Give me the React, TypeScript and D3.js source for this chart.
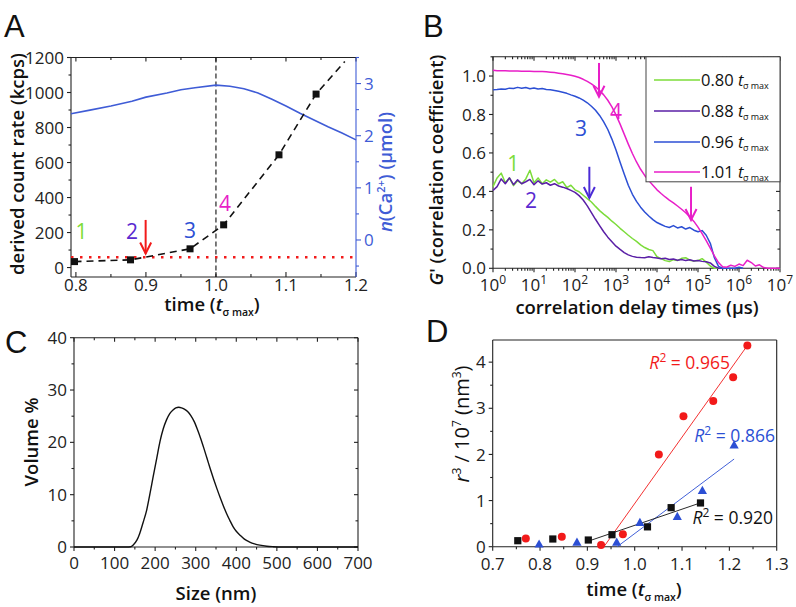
import React from 'react';
import * as d3 from 'd3';

const FONT = "'Open Sans', 'Noto Sans', 'DejaVu Sans', sans-serif";
const LETTER_FONT = "'Liberation Sans', Arial, sans-serif";

const C_GREEN = '#7cdc3a';
const C_PURPLE = '#5a1fa6';
const C_PURPLE_LBL = '#5a2ad0';
const C_BLUE = '#2c4fd4';
const C_MAGENTA = '#e81ec8';
const C_RED = '#f21a1a';
const C_ABLUE = '#3f5cd6';

// ---------------- Panel A data ----------------
const timeA = [0.798, 0.878, 0.963, 1.011, 1.09, 1.143];
const countRateA = [34, 44, 107, 244, 644, 991];
const trendEndTime = 1.184;
const trendEndRate = 1177;
const thresholdRate = 59;
const caTime = [0.793, 0.82, 0.85, 0.88, 0.9, 0.93, 0.95, 0.97, 1.0, 1.02, 1.04, 1.06, 1.08, 1.1, 1.12, 1.14, 1.16, 1.18, 1.2];
const caAmount = [2.42, 2.49, 2.57, 2.66, 2.74, 2.82, 2.88, 2.92, 2.97, 2.95, 2.9, 2.82, 2.7, 2.57, 2.43, 2.3, 2.17, 2.05, 1.92];
const timeTicksA = [0.8, 0.9, 1.0, 1.1, 1.2];
const timeMinorA = [0.85, 0.95, 1.05, 1.15];
const rateTicksA = [0, 200, 400, 600, 800, 1000, 1200];
const rateMinorA = [100, 300, 500, 700, 900, 1100];
const caTicksA = [0, 1, 2, 3];
const caMinorA = [-0.5, 0.5, 1.5, 2.5, 3.5];
const labelsA = ['1', '2', '3', '4'];
const labelTimeA = [0.808, 0.88, 0.963, 1.013];
const labelRateA = [205, 209, 214, 369];
const labelColorsA = [C_GREEN, C_PURPLE_LBL, C_BLUE, C_MAGENTA];
const arrowA = { time: 0.8996, from: 272, to: 80 };

// ---------------- Panel B data ----------------
const lagExp = Array.from({ length: 71 }, (_, i) => i / 10); // log10(delay / µs)
const g080 = [0.425, 0.47, 0.495, 0.445, 0.47, 0.43, 0.455, 0.44, 0.465, 0.51, 0.445, 0.47, 0.44, 0.46, 0.448, 0.462, 0.44, 0.45, 0.42, 0.432,
  0.408, 0.398, 0.38, 0.362, 0.345, 0.322, 0.3, 0.282, 0.265, 0.245, 0.228, 0.208, 0.19, 0.172, 0.155, 0.14, 0.122, 0.108, 0.098, 0.092,
  0.06, 0.05, 0.04, 0.035, 0.045, 0.04, 0.052, 0.055, 0.042, 0.038, 0.04, 0.05, 0.032, 0.012, 0.0, 0.0];
const g088 = [0.405, 0.425, 0.465, 0.44, 0.47, 0.435, 0.46, 0.44, 0.45, 0.462, 0.435, 0.455, 0.438, 0.445, 0.432, 0.44, 0.428, 0.422, 0.415, 0.405,
  0.395, 0.378, 0.355, 0.325, 0.29, 0.255, 0.222, 0.19, 0.162, 0.138, 0.115, 0.098, 0.082, 0.07, 0.062, 0.058, 0.056, 0.055, 0.06, 0.056,
  0.054, 0.05, 0.052, 0.046, 0.048, 0.042, 0.046, 0.04, 0.044, 0.038, 0.04, 0.036, 0.034, 0.028, 0.01, 0.0, 0.0];
const g096 = [0.928, 0.93, 0.933, 0.931, 0.937, 0.935, 0.941, 0.936, 0.94, 0.934, 0.938, 0.933, 0.935, 0.93, 0.929, 0.925, 0.921, 0.916, 0.91, 0.902,
  0.895, 0.886, 0.875, 0.861, 0.843, 0.822, 0.795, 0.762, 0.722, 0.672, 0.615, 0.552, 0.49, 0.432, 0.385, 0.348, 0.318, 0.293, 0.272, 0.253,
  0.238, 0.228, 0.218, 0.212, 0.222, 0.21, 0.216, 0.204, 0.212, 0.198, 0.19, 0.196, 0.172, 0.13, 0.055, 0.01, 0.0, 0.0, 0.0, 0.0, 0.005, 0.0];
const g101 = [1.03, 1.028, 1.027, 1.027, 1.026, 1.026, 1.026, 1.025, 1.025, 1.025, 1.024, 1.024, 1.023, 1.022, 1.02, 1.018, 1.015, 1.012, 1.008, 1.004,
  0.999, 0.992, 0.983, 0.972, 0.959, 0.944, 0.925, 0.902, 0.874, 0.84, 0.798, 0.75, 0.698, 0.646, 0.597, 0.553, 0.515, 0.483, 0.456, 0.432,
  0.408, 0.389, 0.371, 0.355, 0.34, 0.324, 0.307, 0.289, 0.268, 0.244, 0.214, 0.18, 0.144, 0.105, 0.065, 0.03, 0.008, 0.006, 0.016, 0.01,
  0.022, 0.014, 0.042, 0.03, 0.012, 0.018, 0.004, 0.0, 0.0, 0.0, 0.0];
const seriesB = [
  { name: '0.80', values: g080, color: C_GREEN },
  { name: '0.88', values: g088, color: C_PURPLE },
  { name: '0.96', values: g096, color: C_BLUE },
  { name: '1.01', values: g101, color: C_MAGENTA },
];
const gTicksB = [0, 0.2, 0.4, 0.6, 0.8, 1.0];
const gMinorB = [0.1, 0.3, 0.5, 0.7, 0.9, 1.1];
const decadeExpB = [0, 1, 2, 3, 4, 5, 6, 7];
const labelsB = ['1', '2', '3', '4'];
const labelExpB = [0.495, 0.927, 2.146, 3.0];
const labelGB = [0.546, 0.355, 0.728, 0.814];
const labelColorsB = [C_GREEN, C_PURPLE_LBL, C_BLUE, C_MAGENTA];
const arrowsB = [
  { exp: 2.35, from: 0.528, to: 0.366, color: '#4b2bd6' },
  { exp: 2.585, from: 1.068, to: 0.892, color: C_MAGENTA },
  { exp: 4.83, from: 0.424, to: 0.251, color: C_MAGENTA },
];

// ---------------- Panel C data ----------------
const sizeC = [0, 130, 140, 146, 155, 162, 170, 179, 187, 195, 204, 212, 220, 228, 236, 244, 251, 258, 265, 272, 280, 288, 296, 304, 312, 320,
  328, 336, 344, 352, 360, 368, 376, 384, 392, 400, 410, 420, 433, 445, 458, 475, 491, 515, 700];
const volumeC = [0, 0, 0.05, 0.4, 1.3, 2.6, 4.6, 7.0, 10.1, 13.4, 17.0, 20.2, 22.6, 24.3, 25.5, 26.2, 26.6, 26.7, 26.6, 26.35, 25.9, 25.1, 24.0, 22.5, 20.8, 18.9,
  16.9, 14.9, 13.0, 11.2, 9.5, 7.9, 6.4, 5.1, 3.9, 3.0, 2.2, 1.5, 0.95, 0.6, 0.35, 0.15, 0.06, 0, 0];
const sizeTicksC = [0, 100, 200, 300, 400, 500, 600, 700];
const sizeMinorC = [50, 150, 250, 350, 450, 550, 650];
const volTicksC = [0, 10, 20, 30, 40];
const volMinorC = [5, 15, 25, 35];

// ---------------- Panel D data ----------------
const sqTime = [0.753, 0.827, 0.902, 0.952, 1.027, 1.077, 1.139];
const sqR3 = [0.13, 0.167, 0.145, 0.26, 0.43, 0.846, 0.948];
const circTime = [0.77, 0.846, 0.929, 0.975, 1.051, 1.103, 1.166, 1.208, 1.238];
const circR3 = [0.18, 0.217, 0.037, 0.268, 2.0, 2.83, 3.16, 3.67, 4.36];
const triTime = [0.798, 0.878, 0.962, 1.011, 1.09, 1.143, 1.21];
const triR3 = [0.05, 0.09, 0.09, 0.52, 0.65, 1.21, 2.2];
const fitSqTime = [0.902, 1.139];
const fitSqR3 = [0.12, 0.95];
const fitCircTime = [0.935, 1.238];
const fitCircR3 = [0, 4.36];
const fitTriTime = [0.963, 1.21];
const fitTriR3 = [0, 1.9];
const timeTicksD = [0.7, 0.8, 0.9, 1.0, 1.1, 1.2, 1.3];
const timeMinorD = [0.75, 0.85, 0.95, 1.05, 1.15, 1.25];
const r3TicksD = [0, 1, 2, 3, 4];
const r3MinorD = [0.5, 1.5, 2.5, 3.5];
const r2Labels = [
  { text: '0.965', time: 1.031, r3: 3.85, color: C_RED },
  { text: '0.866', time: 1.126, r3: 2.28, color: C_BLUE },
  { text: '0.920', time: 1.122, r3: 0.5, color: '#111' },
];

const TICK_FS = 17;
const TITLE_FS = 18.5;

function Axis({ scale, orient, pos, major, minor = [], len = 5, minorLen = 3, fmt, off = 8, color = '#222', fs = TICK_FS, noLine = false }: any) {
  const r = scale.range();
  const horiz = orient === 'bottom' || orient === 'top';
  const sign = orient === 'bottom' || orient === 'right' ? 1 : -1;
  const items: any[] = [];
  if (!noLine)
    items.push(horiz ? <line key="l" x1={r[0]} x2={r[1]} y1={pos} y2={pos} /> : <line key="l" x1={pos} x2={pos} y1={r[0]} y2={r[1]} />);
  const tick = (v: number, L: number, k: string) => {
    const p = scale(v);
    items.push(horiz ? <line key={k} x1={p} x2={p} y1={pos} y2={pos + sign * L} /> : <line key={k} y1={p} y2={p} x1={pos} x2={pos + sign * L} />);
  };
  major.forEach((v: number, i: number) => tick(v, len, 'M' + i));
  minor.forEach((v: number, i: number) => tick(v, minorLen, 'm' + i));
  const labels = fmt
    ? major.map((v: number, i: number) => {
        const p = scale(v);
        if (horiz)
          return (
            <text key={'t' + i} x={p} y={pos + sign * off} dy="0.36em" textAnchor="middle">
              {fmt(v)}
            </text>
          );
        return (
          <text key={'t' + i} x={pos + sign * off} y={p} dy="0.36em" textAnchor={sign < 0 ? 'end' : 'start'}>
            {fmt(v)}
          </text>
        );
      })
    : null;
  return (
    <g>
      <g stroke={color} strokeWidth={1.1} fill="none">{items}</g>
      {labels && <g fill={color} fontSize={fs} fontFamily={FONT}>{labels}</g>}
    </g>
  );
}

function Arrow({ x, y1, y2, color }: any) {
  return (
    <g stroke={color} strokeWidth={2} fill="none">
      <line x1={x} x2={x} y1={y1} y2={y2} />
      <polyline points={`${x - 5.5},${y2 - 11} ${x},${y2} ${x + 5.5},${y2 - 11}`} />
    </g>
  );
}

function TimeTitle({ x, y }: any) {
  return (
    <text x={x} y={y} textAnchor="middle" fontFamily={FONT} fontSize={TITLE_FS} fontWeight={600} fill="#111">
      time (<tspan fontStyle="italic">t</tspan>
      <tspan fontSize={10.5} dy={5}>σ max</tspan>
      <tspan dy={-5}>)</tspan>
    </text>
  );
}

export default function App() {
  // Panel A scales
  const ax = d3.scaleLinear().domain([0.793, 1.2]).range([71, 356]);
  const ayL = d3.scaleLinear().domain([-54, 1200]).range([277, 57.5]);
  const ayR = d3.scaleLinear().domain([-0.71, 3.5]).range([277, 57.5]);
  // Panel B
  const bx = d3.scaleLog().domain([1, 1e7]).range([493, 780]);
  const by = d3.scaleLinear().domain([0, 1.1]).range([268.3, 56.8]);
  // Panel C
  const cx = d3.scaleLinear().domain([0, 700]).range([74, 358]);
  const cy = d3.scaleLinear().domain([0, 40]).range([547, 337.7]);
  // Panel D
  const dx = d3.scaleLinear().domain([0.7, 1.3]).range([492.7, 776.7]);
  const dy = d3.scaleLinear().domain([0, 4.48]).range([546.7, 340]);

  const trendPts: [number, number][] = timeA.map((t, i) => [t, countRateA[i]] as [number, number]).concat([[trendEndTime, trendEndRate]]);
  const trendPath = d3.line<[number, number]>().x((d) => ax(d[0])).y((d) => ayL(d[1]))(trendPts);
  const caPath = d3.line<number>().x((_, i) => ax(caTime[i])).y((v) => ayR(v))(caAmount);

  const lineB = (vals: number[]) =>
    d3.line<number>().x((_, i) => bx(Math.pow(10, lagExp[i]))).y((v) => by(v))(vals);

  const cPath = d3.line<number>().x((_, i) => cx(sizeC[i])).y((v) => cy(v)).curve(d3.curveMonotoneX)(volumeC);

  const fitLine = (ts: number[], vs: number[]) => d3.line<number>().x((_, i) => dx(ts[i])).y((v) => dy(v))(vs);

  const minorLog: number[] = [];
  decadeExpB.slice(0, 7).forEach((e) => {
    for (let m = 2; m <= 9; m++) minorLog.push(m * Math.pow(10, e));
  });
  const decadesB = decadeExpB.map((e) => Math.pow(10, e));

  const fmt1 = (v: number) => v.toFixed(1);
  const fmt0 = (v: number) => String(v);

  const legendY = [80, 111, 142, 172];

  return (
    <svg width={796} height={607} style={{ position: 'absolute', left: 0, top: 0, background: '#fff' }} fontFamily={FONT}>
      <rect width={796} height={607} fill="#fff" />

      {/* ================= Panel A ================= */}
      <text x={4} y={37} fontFamily={LETTER_FONT} fontSize={31} fill="#111">A</text>
      <Axis scale={ayL} orient="left" pos={71} major={rateTicksA} minor={rateMinorA} fmt={fmt0} off={7} len={4} minorLen={2.5} />
      <Axis scale={ax} orient="bottom" pos={277} major={timeTicksA} minor={timeMinorA} fmt={fmt1} off={8} len={-5} minorLen={-3} />
      <Axis scale={ax} orient="top" pos={57.5} major={timeTicksA} minor={timeMinorA} len={-4} minorLen={-2.5} />
      <Axis scale={ayR} orient="right" pos={356} major={caTicksA} minor={caMinorA} fmt={fmt0} off={8} len={5} minorLen={3} color={C_ABLUE} />
      <line x1={ax(1.0)} x2={ax(1.0)} y1={57.5} y2={277} stroke="#111" strokeWidth={1.1} strokeDasharray="5 3" />
      <line x1={71} x2={356} y1={ayL(thresholdRate)} y2={ayL(thresholdRate)} stroke={C_RED} strokeWidth={2.5} strokeDasharray="2.5 6.5" />
      <path d={caPath || ''} fill="none" stroke={C_ABLUE} strokeWidth={1.6} />
      <path d={trendPath || ''} fill="none" stroke="#111" strokeWidth={1.6} strokeDasharray="7 5" />
      {timeA.map((t, i) => (
        <rect key={'sa' + i} x={ax(t) - 3.5} y={ayL(countRateA[i]) - 3.5} width={7} height={7} fill="#111" />
      ))}
      {labelsA.map((l, i) => (
        <text key={'la' + i} x={ax(labelTimeA[i])} y={ayL(labelRateA[i])} dy="0.36em" textAnchor="middle" fontSize={21} fill={labelColorsA[i]}>{l}</text>
      ))}
      <Arrow x={ax(arrowA.time)} y1={ayL(arrowA.from)} y2={ayL(arrowA.to)} color={C_RED} />
      <text transform="translate(17,164) rotate(-90)" textAnchor="middle" dy="0.36em" fontSize={TITLE_FS} fontWeight={600} fill="#111">derived count rate (kcps)</text>
      <text transform="translate(385,172) rotate(-90)" textAnchor="middle" dy="0.36em" fontSize={TITLE_FS} fontWeight={600} fill={C_ABLUE}>
        <tspan fontStyle="italic">n</tspan>(Ca<tspan fontSize={11} dy={-7}>2+</tspan><tspan dy={7}>) (μmol)</tspan>
      </text>
      <TimeTitle x={212} y={311} />

      {/* ================= Panel B ================= */}
      <text x={423} y={37} fontFamily={LETTER_FONT} fontSize={31} fill="#111">B</text>
      <Axis scale={by} orient="left" pos={493} major={gTicksB} minor={gMinorB} fmt={fmt1} off={7} len={4} minorLen={2.5} />
      <Axis scale={by} orient="right" pos={780} major={gTicksB} minor={gMinorB} len={-4} minorLen={-2.5} />
      <Axis
        scale={bx}
        orient="bottom"
        pos={268.3}
        major={decadesB}
        minor={minorLog}
        len={4}
        minorLen={2.5}
        off={17}
        fmt={(v: number) => (
          <>
            10<tspan fontSize={12} dy={-7}>{Math.round(Math.log10(v))}</tspan>
          </>
        )}
      />
      <Axis scale={bx} orient="top" pos={56.8} major={decadesB} minor={minorLog} len={-4} minorLen={-2.5} />
      {seriesB.map((s) => (
        <path key={s.name} d={lineB(s.values) || ''} fill="none" stroke={s.color} strokeWidth={1.5} strokeLinejoin="round" />
      ))}
      {labelsB.map((l, i) => (
        <text key={'lb' + i} x={bx(Math.pow(10, labelExpB[i]))} y={by(labelGB[i])} dy="0.36em" textAnchor="middle" fontSize={21} fill={labelColorsB[i]}>{l}</text>
      ))}
      {arrowsB.map((a, i) => (
        <Arrow key={'ab' + i} x={bx(Math.pow(10, a.exp))} y1={by(a.from)} y2={by(a.to)} color={a.color} />
      ))}
      <rect x={646} y={56.8} width={134} height={125} fill="#fff" stroke="#444" strokeWidth={1} />
      {seriesB.map((s, i) => (
        <g key={'lg' + i}>
          <line x1={654} x2={700} y1={legendY[i]} y2={legendY[i]} stroke={s.color} strokeWidth={1.6} />
          <text x={701} y={legendY[i]} dy="0.36em" fontSize={16.5} fill="#111">
            {s.name} <tspan fontStyle="italic">t</tspan><tspan fontSize={9} dy={3} dx={-0.5}>σ max</tspan>
          </text>
        </g>
      ))}
      <text transform="translate(436,170) rotate(-90)" textAnchor="middle" dy="0.36em" fontSize={TITLE_FS} fontWeight={600} fill="#111">
        <tspan fontStyle="italic">G</tspan>' (correlation coefficient)
      </text>
      <text x={637} y={314} textAnchor="middle" fontSize={TITLE_FS} fontWeight={600} fill="#111">correlation delay times (μs)</text>

      {/* ================= Panel C ================= */}
      <text x={5} y={353} fontFamily={LETTER_FONT} fontSize={31} fill="#111">C</text>
      <Axis scale={cy} orient="left" pos={74} major={volTicksC} minor={volMinorC} fmt={fmt0} off={7} len={4} minorLen={2.5} />
      <Axis scale={cy} orient="right" pos={358} major={volTicksC} minor={volMinorC} len={-4} minorLen={-2.5} />
      <Axis scale={cx} orient="bottom" pos={547} major={sizeTicksC} minor={sizeMinorC} fmt={fmt0} off={16} len={4} minorLen={2.5} />
      <Axis scale={cx} orient="top" pos={337.7} major={sizeTicksC} minor={sizeMinorC} len={-4} minorLen={-2.5} />
      <path d={cPath || ''} fill="none" stroke="#111" strokeWidth={1.4} />
      <text transform="translate(31,442) rotate(-90)" textAnchor="middle" dy="0.36em" fontSize={TITLE_FS} fontWeight={600} fill="#111">Volume %</text>
      <text x={216} y={600} textAnchor="middle" fontSize={TITLE_FS} fontWeight={600} fill="#111">Size (nm)</text>

      {/* ================= Panel D ================= */}
      <text x={426} y={342} fontFamily={LETTER_FONT} fontSize={31} fill="#111">D</text>
      <Axis scale={dy} orient="left" pos={492.7} major={r3TicksD} minor={r3MinorD} fmt={fmt0} off={7} len={4} minorLen={2.5} />
      <Axis scale={dy} orient="right" pos={776.7} major={[]} />
      <Axis scale={dx} orient="bottom" pos={546.7} major={timeTicksD} minor={timeMinorD} fmt={fmt1} off={17} len={4} minorLen={2.5} />
      <Axis scale={dx} orient="top" pos={340} major={[]} />
      <path d={fitLine(fitCircTime, fitCircR3) || ''} stroke={C_RED} strokeWidth={0.9} fill="none" />
      <path d={fitLine(fitTriTime, fitTriR3) || ''} stroke={C_BLUE} strokeWidth={0.9} fill="none" />
      <path d={fitLine(fitSqTime, fitSqR3) || ''} stroke="#111" strokeWidth={0.9} fill="none" />
      {sqTime.map((t, i) => (
        <rect key={'sd' + i} x={dx(t) - 3.6} y={dy(sqR3[i]) - 3.6} width={7.2} height={7.2} fill="#111" />
      ))}
      {circTime.map((t, i) => (
        <circle key={'cd' + i} cx={dx(t)} cy={dy(circR3[i])} r={4} fill={C_RED} />
      ))}
      {triTime.map((t, i) => {
        const x = dx(t);
        const y = dy(triR3[i]);
        return <polygon key={'td' + i} points={`${x},${y - 5} ${x - 4.6},${y + 3.2} ${x + 4.6},${y + 3.2}`} fill={C_BLUE} />;
      })}
      {r2Labels.map((l, i) => (
        <text key={'r2' + i} x={dx(l.time)} y={dy(l.r3)} fontSize={17.5} fill={l.color}>
          <tspan fontStyle="italic">R</tspan><tspan fontSize={12} dy={-7}>2</tspan><tspan dy={7}> = {l.text}</tspan>
        </text>
      ))}
      <text transform="translate(462,424) rotate(-90)" textAnchor="middle" dy="0.36em" fontSize={20} fontWeight={500} fill="#111">
        <tspan fontStyle="italic">r</tspan><tspan fontSize={12} dy={-8}>3</tspan><tspan dy={8}> / 10</tspan><tspan fontSize={12} dy={-8}>7</tspan><tspan dy={8}> (nm</tspan><tspan fontSize={12} dy={-8}>3</tspan><tspan dy={8}>)</tspan>
      </text>
      <TimeTitle x={634} y={596} />
    </svg>
  );
}
